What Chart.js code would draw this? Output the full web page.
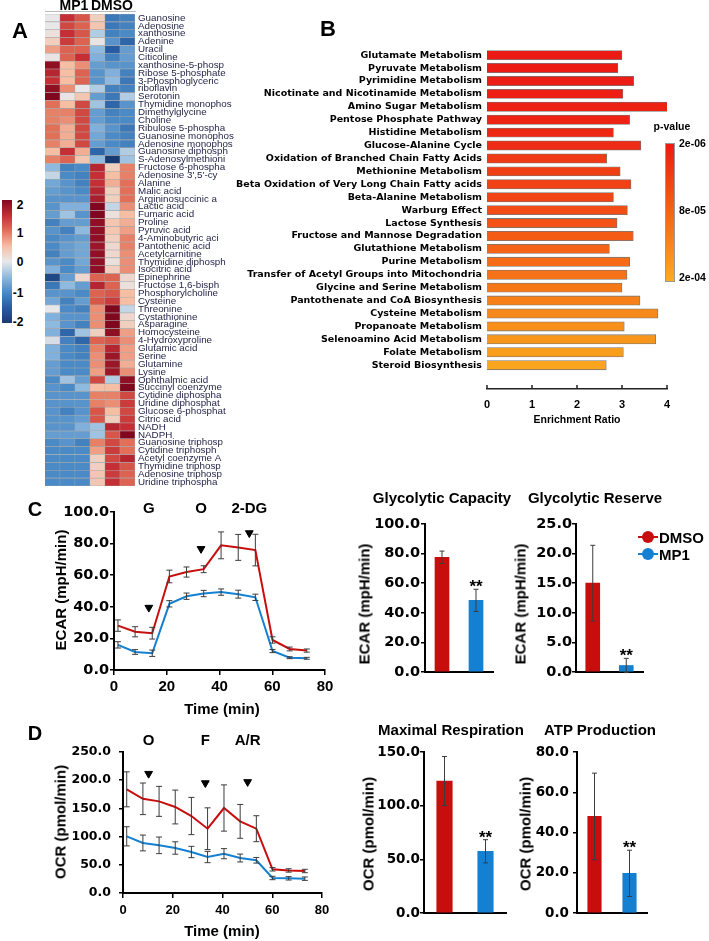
<!DOCTYPE html>
<html>
<head>
<meta charset="utf-8">
<title>Metabolomics and Seahorse panels</title>
<script src="https://cdn.jsdelivr.net/npm/chart.js@4.4.1/dist/chart.umd.min.js"></script>
<style>
  body { margin: 0; background: #fff; }
  #fig { position: relative; width: 709px; height: 941px; overflow: hidden; }
  canvas { position: absolute; }
  .lbl { position: absolute; white-space: nowrap; line-height: 1; font-weight: bold; color: #000;
         font-family: "Liberation Sans", Arial, sans-serif; }
</style>
</head>
<body>
<div id="fig"></div>
<script>
// ---------- data ----------
const heatNames = ['Guanosine', 'Adenosine', 'xanthosine', 'Adenine', 'Uracil', 'Citicoline',
  'xanthosine-5-phosp', 'Ribose 5-phosphate', '3-Phosphoglyceric', 'riboflavin', 'Serotonin',
  'Thymidine monophos', 'Dimethylglycine', 'Choline', 'Ribulose 5-phospha', 'Guanosine monophos',
  'Adenosine monophos', 'Guanosine diphosph', 'S-Adenosylmethioni', 'Fructose 6-phospha',
  "Adenosine 3',5'-cy", 'Alanine', 'Malic acid', 'Argininosuccinic a', 'Lactic acid', 'Fumaric acid',
  'Proline', 'Pyruvic acid', '4-Aminobutyric aci', 'Pantothenic acid', 'Acetylcarnitine',
  'Thymidine diphosph', 'Isocitric acid', 'Epinephrine', 'Fructose 1,6-bisph', 'Phosphorylcholine',
  'Cysteine', 'Threonine', 'Cystathionine', 'Asparagine', 'Homocysteine', '4-Hydroxyproline',
  'Glutamic acid', 'Serine', 'Glutamine', 'Lysine', 'Ophthalmic acid', 'Succinyl coenzyme',
  'Cytidine diphospha', 'Uridine diphosphat', 'Glucose 6-phosphat', 'Citric acid', 'NADH', 'NADPH',
  'Guanosine triphosp', 'Cytidine triphosph', 'Acetyl coenzyme A', 'Thymidine triphosp',
  'Adenosine triphosp', 'Uridine triphospha'];

// z-scores, three MP1 replicates per row
const mp1Z = [
  [0.0, 1.5, 1.2], [0.0, 1.3, 1.1], [0.1, 1.5, 1.2], [0.3, 1.4, 1.1], [0.7, 1.1, 1.1], [0.05, 1.1, 1.5],
  [1.9, 0.5, 0.8], [1.6, 0.5, 1.1], [1.5, 0.5, 1.1], [1.9, 0.8, 0.0], [2.2, 0.05, 0.4], [1.0, 0.5, 1.3],
  [0.9, 0.9, 1.3], [0.9, 0.8, 1.3], [1.0, 0.6, 1.3], [1.0, 0.6, 1.3], [0.9, 0.6, 1.3], [0.5, 1.5, 0.6],
  [0.9, 1.1, 0.4], [-0.5, -1.1, -1.0], [-0.2, -1.0, -1.1], [-0.7, -0.9, -1.1], [-0.8, -0.9, -1.0],
  [-0.9, -0.9, -0.9], [-0.9, -0.6, -0.6], [-0.8, -0.4, -0.9], [-1.1, -0.8, -0.8], [-0.9, -1.1, -0.5],
  [-1.0, -0.9, -0.8], [-1.0, -0.8, -0.7], [-1.1, -0.8, -0.7], [-0.9, -1.0, -0.7], [-0.6, -1.0, -0.8],
  [-1.8, -0.8, 0.2], [-1.2, -0.5, -0.8], [-0.9, -0.9, -1.0], [-0.7, -1.1, -0.8], [0.0, -1.0, -1.1],
  [-0.6, -0.9, -0.9], [-0.5, -0.9, -1.1], [-0.6, -1.4, -0.4], [-0.1, -1.1, -1.4], [-0.6, -1.0, -1.1],
  [-0.6, -1.0, -1.1], [-0.8, -1.0, -1.0], [-0.8, -1.0, -1.0], [-1.0, -0.4, -0.8], [-0.9, -1.0, -0.5],
  [-0.9, -0.9, -0.9], [-0.9, -0.9, -0.9], [-0.9, -1.1, -0.9], [-0.9, -0.9, -0.8], [-0.9, -0.9, -0.6],
  [-0.8, -0.8, -0.8], [-1.0, -0.9, -1.1], [-1.0, -1.0, -1.0], [-1.0, -1.0, -1.0], [-1.0, -1.0, -1.0],
  [-1.0, -1.0, -1.0], [-1.0, -1.0, -1.0]];
// z-scores, three DMSO replicates per row
const dmsoZ = [
  [0.3, -1.2, -1.1], [0.4, -1.2, -1.1], [-0.3, -1.1, -1.0], [0.05, -0.9, -1.4], [-0.5, -1.5, -0.8],
  [-0.6, -1.1, -0.8], [-0.8, -0.9, -0.9], [-0.9, -0.6, -1.1], [-0.9, -0.5, -1.2], [-0.3, -1.1, -1.1],
  [-0.8, -1.2, -0.3], [-0.4, -1.4, -0.9], [-0.8, -1.1, -1.0], [-0.8, -1.0, -1.0], [-0.6, -0.9, -1.2],
  [-0.7, -1.0, -1.1], [-0.8, -1.0, -1.1], [-1.4, -0.8, -0.3], [-0.5, -2.0, -0.4], [1.6, 0.3, 0.9],
  [1.5, 0.5, 0.9], [1.5, 0.6, 1.0], [1.6, 0.3, 1.0], [1.7, 0.3, 1.0], [2.0, -0.2, 0.8], [2.2, 0.1, 0.5],
  [1.9, 0.4, 0.6], [1.9, 0.4, 0.7], [1.9, 0.3, 0.9], [1.8, 0.2, 0.9], [1.9, 0.2, 0.8], [1.9, 0.1, 0.8],
  [1.9, 0.3, 0.8], [1.1, 1.1, 0.2], [1.6, 1.1, 0.1], [1.1, 1.2, 0.5], [1.2, 1.4, 0.5], [0.8, 2.0, -0.2],
  [0.8, 2.1, 0.2], [0.8, 2.0, 0.3], [0.3, 1.9, 0.7], [1.1, 1.2, 0.8], [0.9, 1.6, 0.7], [0.8, 1.8, 0.7],
  [0.8, 1.8, 0.6], [0.7, 1.8, 0.8], [1.3, -0.3, 1.9], [0.5, 0.5, 2.0], [0.9, 0.9, 1.3], [0.9, 0.8, 1.4],
  [1.2, 0.5, 1.3], [1.2, 0.3, 1.4], [-0.4, 1.6, 1.5], [-0.4, 1.2, 2.0], [0.9, 1.3, 1.0], [0.7, 1.4, 1.0],
  [0.3, 1.3, 1.6], [0.3, 1.5, 1.2], [0.4, 1.4, 1.1], [0.4, 1.5, 1.1]];
const heatColumns = ['MP1', 'MP1', 'MP1', 'DMSO', 'DMSO', 'DMSO'];

const pathways = ['Glutamate Metabolism', 'Pyruvate Metabolism', 'Pyrimidine Metabolism',
  'Nicotinate and Nicotinamide Metabolism', 'Amino Sugar Metabolism', 'Pentose Phosphate Pathway',
  'Histidine Metabolism', 'Glucose-Alanine Cycle', 'Oxidation of Branched Chain Fatty Acids',
  'Methionine Metabolism', 'Beta Oxidation of Very Long Chain Fatty acids', 'Beta-Alanine Metabolism',
  'Warburg Effect', 'Lactose Synthesis', 'Fructose and Mannose Degradation', 'Glutathione Metabolism',
  'Purine Metabolism', 'Transfer of Acetyl Groups into Mitochondria', 'Glycine and Serine Metabolism',
  'Pantothenate and CoA Biosynthesis', 'Cysteine Metabolism', 'Propanoate Metabolism',
  'Selenoamino Acid Metabolism', 'Folate Metabolism', 'Steroid Biosynthesis'];
const enrichment = [3.0, 2.91, 3.26, 3.02, 4.02, 3.17, 2.81, 3.42, 2.66, 2.96, 3.2, 2.81, 3.12,
  2.89, 3.25, 2.72, 3.17, 3.11, 3.0, 3.4, 3.8, 3.05, 3.75, 3.03, 2.65];
const pValues = [2.5e-6, 4e-6, 6e-6, 8e-6, 1e-5, 1.5e-5, 2e-5, 2.5e-5, 4.5e-5, 5e-5, 5.5e-5, 6e-5,
  7e-5, 7.5e-5, 9e-5, 1e-4, 1.1e-4, 1.2e-4, 1.3e-4, 1.4e-4, 1.5e-4, 1.6e-4, 1.7e-4, 1.8e-4, 1.9e-4];
const pTicks = ['2e-06', '8e-05', '2e-04'];

const seahorseTime = [1.5, 8.0, 14.5, 21.0, 27.5, 34.0, 40.6, 47.1, 53.6, 60.1, 66.6, 73.1];
const ecarDmso = [28.1, 24.2, 23.3, 59.2, 62.0, 63.8, 78.9, 77.6, 75.9, 19.0, 13.3, 12.3];
const ecarDmsoErr = [3.6, 3.2, 3.7, 4.0, 3.2, 2.2, 8.5, 8.2, 10.0, 2.0, 1.2, 1.0];
const ecarMp1 = [15.9, 11.4, 10.6, 41.9, 46.7, 48.4, 49.3, 48.0, 46.0, 12.0, 7.8, 7.4];
const ecarMp1Err = [2.0, 1.5, 2.0, 2.0, 2.0, 2.0, 2.0, 2.5, 2.0, 1.0, 0.6, 0.6];
const ecarInjLabels = ['G', 'O', '2-DG'];
const ecarInjTime = [13.2, 33.0, 51.3];
const ecarInjLevel = [39.5, 76.7, 86.7];

const ocrDmso = [183.8, 167.0, 162.5, 152.5, 136.5, 114.0, 150.7, 127.0, 114.0, 42.0, 40.0, 39.0];
const ocrDmsoErr = [31, 28, 26.6, 30, 33, 37, 41, 30, 23, 3, 3, 3];
const ocrMp1 = [100.5, 88.7, 84.5, 79.8, 72.7, 63.8, 69.7, 62.0, 58.0, 26.6, 26.0, 25.4];
const ocrMp1Err = [17, 14, 14.7, 11, 10, 10, 9, 7, 5, 3, 3, 3];
const ocrInjLabels = ['O', 'F', 'A/R'];
const ocrInjTime = [10.3, 33.1, 50.1];
const ocrInjLevel = [211.6, 195, 197];

const groups = ['DMSO', 'MP1'];
const significance = ['', '**'];
const glyCapacity = [77.5, 48.4], glyCapacityErr = [4.2, 7.5];
const glyReserve = [15.0, 1.1], glyReserveErr = [6.4, 1.2];
const maxResp = [123.0, 57.5], maxRespErr = [22.8, 10.8];
const atpProd = [48.0, 19.7], atpProdErr = [21.5, 11.5];

// ---------- helpers ----------
const RED = '#C80D0D', BLUE = '#1480D2';
const fig = document.getElementById('fig');
Chart.defaults.font.family = '"Liberation Sans", Arial, sans-serif';
Chart.defaults.color = '#000';

function text(str, x, y, size, opt = {}) {
  const d = document.createElement('div');
  d.className = 'lbl';
  d.textContent = str;
  d.style.left = x + 'px';
  d.style.top = y + 'px';
  d.style.fontSize = size + 'px';
  if (opt.family) d.style.fontFamily = opt.family;
  let tf = 'translate(-50%,-50%)';
  if (opt.align === 'left') tf = 'translate(0,-50%)';
  if (opt.align === 'right') tf = 'translate(-100%,-50%)';
  if (opt.rot) tf += ' rotate(-90deg)';
  d.style.transform = tf;
  fig.appendChild(d);
  return d;
}

function makeCanvas(area, m) {
  const c = document.createElement('canvas');
  const w = area.w + m.l + m.r, h = area.h + m.t + m.b;
  c.width = w; c.height = h;
  c.style.width = w + 'px'; c.style.height = h + 'px';
  c.style.left = (area.l - m.l) + 'px';
  c.style.top = (area.t - m.t) + 'px';
  fig.appendChild(c);
  return c;
}

function mix(stops, f) {
  for (let i = 1; i < stops.length; i++) {
    if (f <= stops[i][0] || i === stops.length - 1) {
      const [f0, c0] = stops[i - 1], [f1, c1] = stops[i];
      const k = Math.max(0, Math.min(1, (f - f0) / (f1 - f0)));
      return 'rgb(' + c0.map((c, j) => Math.round(c + (c1[j] - c) * k)).join(',') + ')';
    }
  }
}
const heatStops = [[-2, [26, 58, 116]], [-1.5, [40, 92, 162]], [-1, [74, 138, 198]], [-0.5, [142, 186, 224]],
  [0, [232, 232, 234]], [0.5, [246, 190, 163]], [1, [226, 112, 88]], [1.5, [196, 46, 52]], [2, [128, 8, 30]]];
const heatColor = v => mix(heatStops, Math.max(-2, Math.min(2, v)));
const pStops = [[0, [236, 26, 20]], [0.5, [245, 100, 22]], [1, [250, 172, 30]]];
const pColor = p => mix(pStops, (p - 2e-6) / (2e-4 - 2e-6));

// error bars + significance marks
const whiskers = {
  id: 'whiskers',
  afterDatasetsDraw(chart) {
    const ctx = chart.ctx, ys = chart.scales.y;
    chart.data.datasets.forEach((ds, i) => {
      if (!ds.errors) return;
      chart.getDatasetMeta(i).data.forEach((el, j) => {
        const raw = ds.data[j];
        const v = typeof raw === 'object' ? raw.y : raw;
        const top = ys.getPixelForValue(v + ds.errors[j]);
        const bot = ys.getPixelForValue(v - ds.errors[j]);
        const cap = ds.capWidth || 3;
        ctx.save();
        ctx.strokeStyle = '#3c3c3c';
        ctx.lineWidth = 1;
        ctx.beginPath();
        ctx.moveTo(el.x, top); ctx.lineTo(el.x, bot);
        ctx.moveTo(el.x - cap, top); ctx.lineTo(el.x + cap, top);
        ctx.moveTo(el.x - cap, bot); ctx.lineTo(el.x + cap, bot);
        ctx.stroke();
        if (ds.marks && ds.marks[j]) {
          ctx.fillStyle = '#000';
          ctx.font = 'bold 17px "Liberation Sans", Arial';
          ctx.textAlign = 'center';
          ctx.textBaseline = 'alphabetic';
          ctx.fillText(ds.marks[j], el.x, top + 3);
        }
        ctx.restore();
      });
    });
  }
};

// injection labels above the plot
const injections = {
  id: 'injections',
  afterDraw(chart, args, o) {
    if (!o.labels) return;
    const ctx = chart.ctx, xs = chart.scales.x;
    ctx.save();
    ctx.font = 'bold 15px "Liberation Sans", Arial';
    ctx.textAlign = 'center';
    ctx.fillStyle = '#000';
    o.labels.forEach((l, i) => ctx.fillText(l, xs.getPixelForValue(o.times[i]), chart.chartArea.top + o.dy));
    ctx.restore();
  }
};

// short upward tick marks on the x axis
const upTicks = {
  id: 'upTicks',
  afterDraw(chart, args, o) {
    if (!o.on) return;
    const ctx = chart.ctx, s = chart.scales.x;
    ctx.save();
    ctx.strokeStyle = '#222';
    ctx.lineWidth = 1.5;
    s.ticks.forEach(t => {
      const x = s.getPixelForValue(t.value);
      ctx.beginPath(); ctx.moveTo(x, s.top); ctx.lineTo(x, s.top - 4); ctx.stroke();
    });
    ctx.restore();
  }
};

// ---------- A: heatmap ----------
{
  const area = {l: 45, t: 14, w: 90, h: 472}, m = {l: 0, t: 10, r: 122, b: 10};
  const zRows = heatNames.map((n, i) => mp1Z[i].concat(dmsoZ[i]));
  new Chart(makeCanvas(area, m), {
    type: 'bar',
    data: {
      labels: heatNames,
      datasets: heatColumns.map((col, c) => ({
        label: col,
        data: heatNames.map(() => [c, c + 1]),
        backgroundColor: zRows.map(r => heatColor(r[c])),
        borderColor: '#a8a8a8',
        borderWidth: 0.6,
        categoryPercentage: 1,
        barPercentage: 1,
        grouped: false
      }))
    },
    options: {
      indexAxis: 'y', responsive: false, animation: false,
      layout: {padding: {top: m.t, bottom: m.b, left: 0, right: 0}},
      plugins: {legend: {display: false}, tooltip: {enabled: false}},
      scales: {
        x: {type: 'linear', min: 0, max: 6, display: false},
        y: {
          position: 'right',
          grid: {display: false, drawTicks: false},
          border: {display: false},
          ticks: {autoSkip: false, padding: 3, color: '#26264a', font: {size: 9.8}},
          afterFit(s) { s.width = m.r; }
        }
      }
    }
  });
}
const headLine = document.createElement('div');
Object.assign(headLine.style, {position: 'absolute', left: '45px', top: '11px', width: '91px', height: '1px', background: '#bbb'});
fig.appendChild(headLine);
text('MP1', 74, 5, 14);
text('DMSO', 112, 5, 14);

const heatBar = document.createElement('div');
Object.assign(heatBar.style, {
  position: 'absolute', left: '2px', top: '200px', width: '10px', height: '123px',
  background: 'linear-gradient(to top,' + heatStops.map(s => heatColor(s[0]) + ' ' + ((s[0] + 2) * 25) + '%').join(',') + ')'
});
fig.appendChild(heatBar);
[['2', 205], ['1', 233], ['0', 262], ['-1', 293], ['-2', 322]].forEach(([t, y]) => text(t, 23.5, y, 12, {align: 'right'}));

// ---------- B: enrichment ----------
{
  const area = {l: 487, t: 42, w: 180, h: 347}, m = {l: 257, t: 20, r: 30, b: 40};
  new Chart(makeCanvas(area, m), {
    type: 'bar',
    data: {
      datasets: [{
        data: pathways.map((p, i) => ({x: enrichment[i], y: i})),
        backgroundColor: pValues.map(pColor),
        borderColor: 'rgba(85,85,85,0.8)',
        borderWidth: 0.8,
        barThickness: 9.3
      }]
    },
    options: {
      indexAxis: 'y', responsive: false, animation: false,
      layout: {padding: {top: m.t, right: m.r, left: 0, bottom: 0}},
      plugins: {legend: {display: false}, tooltip: {enabled: false}, upTicks: {on: true}},
      scales: {
        x: {
          type: 'linear', min: 0, max: 4,
          ticks: {stepSize: 1, padding: 9, font: {size: 11, weight: 'bold'}},
          grid: {display: false, drawTicks: false},
          border: {color: '#222', width: 1.5},
          title: {display: true, text: 'Enrichment Ratio', font: {size: 10.5, weight: 'bold'}, padding: {top: 0, bottom: 3}},
          afterFit(s) { s.height = m.b; }
        },
        y: {
          type: 'linear', reverse: true, min: -0.5, max: 25.33,
          ticks: {
            stepSize: 1, includeBounds: false, autoSkip: false, padding: 5,
            font: {family: '"DejaVu Sans"', size: 9.5, weight: 'bold'},
            callback: v => (Number.isInteger(v) && pathways[v]) ? pathways[v] : ''
          },
          grid: {display: false, drawTicks: false},
          border: {display: false},
          afterFit(s) { s.width = m.l; }
        }
      }
    },
    plugins: [upTicks]
  });
}
const pBar = document.createElement('div');
Object.assign(pBar.style, {
  position: 'absolute', left: '665px', top: '143px', width: '8px', height: '137px',
  border: '0.5px solid #999',
  background: 'linear-gradient(to bottom,' + pStops.map(s => mix(pStops, s[0]) + ' ' + (s[0] * 100) + '%').join(',') + ')'
});
fig.appendChild(pBar);
text('p-value', 672, 126, 10.5);
[143, 210, 277].forEach((y, i) => text(pTicks[i], 679, y, 10.5, {align: 'left'}));

// ---------- C / D: Seahorse traces ----------
function traceChart(area, m, cfg) {
  const axisFont = {family: '"DejaVu Sans"', size: cfg.yFont, weight: 'bold'};
  return new Chart(makeCanvas(area, m), {
    type: 'line',
    data: {
      datasets: [
        {data: seahorseTime.map((t, i) => ({x: t, y: cfg.dmso[i]})), errors: cfg.dmsoErr,
         borderColor: RED, borderWidth: 2, pointRadius: 0, tension: 0},
        {data: seahorseTime.map((t, i) => ({x: t, y: cfg.mp1[i]})), errors: cfg.mp1Err,
         borderColor: BLUE, borderWidth: 2, pointRadius: 0, tension: 0},
        {data: cfg.injTime.map((t, i) => ({x: t, y: cfg.injLevel[i]})), showLine: false,
         pointStyle: 'triangle', rotation: 180, pointRadius: 4.5, backgroundColor: '#000', borderColor: '#000'}
      ]
    },
    options: {
      responsive: false, animation: false,
      layout: {padding: {top: m.t, right: m.r, left: 0, bottom: 0}},
      plugins: {
        legend: {display: false}, tooltip: {enabled: false},
        injections: {labels: cfg.injLabels, times: cfg.injTime, dy: cfg.dy}
      },
      scales: {
        x: {
          type: 'linear', min: 0, max: 80,
          ticks: {stepSize: 20, maxRotation: 0, padding: cfg.xPad, font: {size: cfg.xFont, weight: 'bold'}},
          grid: {drawOnChartArea: false, tickLength: 5, color: '#000', lineWidth: 1.5},
          border: {color: '#000', width: 2},
          afterFit(s) { s.height = m.b; }
        },
        y: {
          min: 0, max: cfg.yMax,
          ticks: {stepSize: cfg.yStep, padding: cfg.yPad, font: axisFont, callback: v => v.toFixed(1)},
          grid: {drawOnChartArea: false, tickLength: 4, color: '#000', lineWidth: 1.5},
          border: {color: '#000', width: 2},
          afterFit(s) { s.width = m.l; }
        }
      }
    },
    plugins: [whiskers, injections]
  });
}

function summaryChart(area, m, cfg) {
  return new Chart(makeCanvas(area, m), {
    type: 'bar',
    data: {
      labels: groups,
      datasets: [{data: cfg.values, errors: cfg.errors, marks: significance, capWidth: 2.5,
                  backgroundColor: [RED, BLUE], barThickness: cfg.bw}]
    },
    options: {
      responsive: false, animation: false,
      layout: {padding: {top: m.t, right: m.r, left: 0, bottom: 0}},
      plugins: {legend: {display: false}, tooltip: {enabled: false}},
      scales: {
        x: {
          grid: {display: false}, ticks: {display: false},
          border: {color: '#000', width: 2},
          afterFit(s) { s.height = m.b; }
        },
        y: {
          min: 0, max: cfg.yMax,
          ticks: {stepSize: cfg.yStep, padding: cfg.yPad, callback: v => v.toFixed(1),
                  font: {family: '"DejaVu Sans"', size: cfg.yFont, weight: 'bold'}},
          grid: {drawOnChartArea: false, tickLength: 4, color: '#000', lineWidth: 1.5},
          border: {color: '#000', width: 2},
          afterFit(s) { s.width = m.l; }
        }
      }
    },
    plugins: [whiskers]
  });
}

// C
traceChart({l: 114, t: 512, w: 211, h: 158}, {l: 64, t: 28, r: 18, b: 32}, {
  dmso: ecarDmso, dmsoErr: ecarDmsoErr, mp1: ecarMp1, mp1Err: ecarMp1Err,
  injLabels: ecarInjLabels, injTime: ecarInjTime, injLevel: ecarInjLevel, dy: 1,
  yMax: 100, yStep: 20, yFont: 14.5, yPad: 1, xFont: 15, xPad: 3
});
summaryChart({l: 425, t: 524, w: 68, h: 148}, {l: 62, t: 20, r: 8, b: 14},
  {values: glyCapacity, errors: glyCapacityErr, yMax: 100, yStep: 20, yFont: 14.5, yPad: 1, bw: 14});
summaryChart({l: 576, t: 524, w: 67, h: 148}, {l: 56, t: 20, r: 8, b: 14},
  {values: glyReserve, errors: glyReserveErr, yMax: 25, yStep: 5, yFont: 14.5, yPad: 0, bw: 14});

text('C', 35, 509, 20);
text('Time (min)', 222, 708, 15);
text('ECAR (mpH/min)', 60, 590, 15, {rot: true});
text('Glycolytic Capacity', 442, 497, 15);
text('Glycolytic Reserve', 595, 497, 15);
text('ECAR (mpH/min)', 364, 604, 15, {rot: true});
text('ECAR (mpH/min)', 520, 604, 15, {rot: true});

// legend
[[groups[0], RED, 537], [groups[1], BLUE, 554]].forEach(([name, col, y]) => {
  const ln = document.createElement('div');
  Object.assign(ln.style, {position: 'absolute', left: '638px', top: (y - 1) + 'px', width: '20px', height: '2px', background: col});
  const dot = document.createElement('div');
  Object.assign(dot.style, {position: 'absolute', left: '642px', top: (y - 6) + 'px', width: '12px', height: '12px', borderRadius: '50%', background: col});
  fig.appendChild(ln); fig.appendChild(dot);
  text(name, 659, y, 15, {align: 'left'});
});

// D
traceChart({l: 123, t: 752, w: 199, h: 141}, {l: 70, t: 28, r: 20, b: 30}, {
  dmso: ocrDmso, dmsoErr: ocrDmsoErr, mp1: ocrMp1, mp1Err: ocrMp1Err,
  injLabels: ocrInjLabels, injTime: ocrInjTime, injLevel: ocrInjLevel, dy: -7.5,
  yMax: 250, yStep: 50, yFont: 12.5, yPad: 8, xFont: 13, xPad: 5
});
summaryChart({l: 424, t: 752, w: 82, h: 161}, {l: 60, t: 20, r: 8, b: 14},
  {values: maxResp, errors: maxRespErr, yMax: 150, yStep: 50, yFont: 13.5, yPad: 0, bw: 15.5});
summaryChart({l: 577, t: 752, w: 70, h: 161}, {l: 60, t: 20, r: 8, b: 14},
  {values: atpProd, errors: atpProdErr, yMax: 80, yStep: 20, yFont: 13.5, yPad: 4, bw: 13.5});

text('D', 35, 733, 20);
text('Time (min)', 222, 930, 15);
text('OCR (pmol/min)', 60, 822, 15, {rot: true});
text('Maximal Respiration', 451, 729, 15);
text('ATP Production', 600, 729, 15);
text('OCR (pmol/min)', 368, 834, 15, {rot: true});
text('OCR (pmol/min)', 525, 834, 15, {rot: true});

text('A', 20, 31, 22);
text('B', 328, 29, 22);
</script>
</body>
</html>
